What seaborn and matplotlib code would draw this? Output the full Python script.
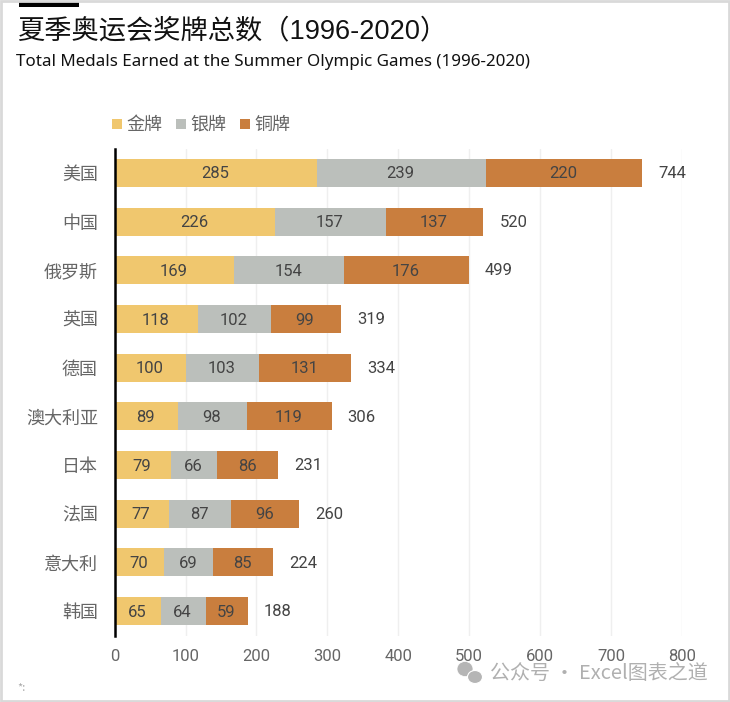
import matplotlib
matplotlib.use("Agg")
import matplotlib.pyplot as plt
from matplotlib.patches import Ellipse, Rectangle
import pandas as pd
import seaborn as sns

# --- Dados ---
COUNTRIES = ['美国', '中国', '俄罗斯', '英国', '德国', '澳大利亚', '日本', '法国', '意大利', '韩国']
GOLD = [285, 226, 169, 118, 100, 89, 79, 77, 70, 65]
SILVER = [239, 157, 154, 102, 103, 98, 66, 87, 69, 64]
BRONZE = [220, 137, 176, 99, 131, 119, 86, 96, 85, 59]
TOTALS = [744, 520, 499, 319, 334, 306, 231, 260, 224, 188]
X_TICKS = [0, 100, 200, 300, 400, 500, 600, 700, 800]

GOLD_COLOR = '#F0C76E'
SILVER_COLOR = '#BBBFBB'
BRONZE_COLOR = '#C97E3E'
TEXT_DARK = '#444444'
TEXT_GREY = '#666666'
CJK = ['Noto Sans CJK SC', 'DejaVu Sans']
NUM_FONT = ['Roboto', 'DejaVu Sans']

sns.set_theme(style='white')
plt.rcParams['font.family'] = CJK

df = pd.DataFrame({'country': COUNTRIES, 'gold': GOLD, 'silver': SILVER, 'bronze': BRONZE})
df['gold_end'] = df['gold']
df['silver_end'] = df['gold'] + df['silver']
df['bronze_end'] = df['silver_end'] + df['bronze']

W, H = 730, 702
fig = plt.figure(figsize=(W / 100, H / 100), dpi=100)
ax = fig.add_axes([114.6 / W, 1 - 635.5 / H, (682 - 114.6) / W, (635.5 - 148.5) / H])

# barras sobrepostas, da maior para a menor, formam o empilhamento
for col, color in [('bronze_end', BRONZE_COLOR), ('silver_end', SILVER_COLOR), ('gold_end', GOLD_COLOR)]:
    sns.barplot(data=df, x=col, y='country', color=color, width=0.575, saturation=1, ax=ax,
                zorder=2, linewidth=0, edgecolor='none')

ax.set_xlim(0, 800)
ax.set_xticks(X_TICKS)
ax.set_xlabel('')
ax.set_ylabel('')
ax.xaxis.grid(True, color='#EFEFEF', linewidth=1)
ax.set_axisbelow(True)
ax.tick_params(axis='both', length=0)
ax.tick_params(axis='x', labelsize=12, labelcolor=TEXT_GREY, pad=10)
ax.tick_params(axis='y', labelsize=13, labelcolor=TEXT_GREY, pad=12)
for lab in ax.get_xticklabels():
    lab.set_family(NUM_FONT)
for lab in ax.get_yticklabels():
    lab.set_y(lab.get_position()[1])
sns.despine(ax=ax, left=False, bottom=True)
ax.spines['left'].set_color('black')
ax.spines['left'].set_linewidth(1.8)

# rótulos de dados
for i, row in df.iterrows():
    for val, center in [(row['gold'], row['gold'] / 2),
                        (row['silver'], row['gold'] + row['silver'] / 2),
                        (row['bronze'], row['silver_end'] + row['bronze'] / 2)]:
        ax.annotate(str(val), (center, i), xytext=(-0.6, -0.8), textcoords='offset points',
                    ha='center', va='center', fontsize=12, color=TEXT_DARK, family=NUM_FONT)
    ax.annotate(str(TOTALS[i]), (row['bronze_end'], i), xytext=(11.5, -0.5), textcoords='offset points',
                ha='left', va='center', fontsize=12, color=TEXT_DARK, family=NUM_FONT)

# títulos
fig.text(17 / W, 1 - 31 / H, '夏季奥运会奖牌总数（1996-2020）', fontsize=19.6, color='#111111', va='center',
         family=['Liberation Sans', 'Noto Sans CJK SC'])
fig.text(16 / W, 1 - 62 / H, 'Total Medals Earned at the Summer Olympic Games (1996-2020)', fontsize=12.25,
         color='#111111', va='center', family=['Noto Sans'])

# legenda
for x0, label, color in [(112, '金牌', GOLD_COLOR), (176, '银牌', SILVER_COLOR), (240, '铜牌', BRONZE_COLOR)]:
    fig.add_artist(Rectangle((x0 / W, 1 - 129 / H), 10 / W, 10 / H, transform=fig.transFigure,
                             facecolor=color, edgecolor='none'))
    fig.text((x0 + 14) / W, 1 - 124.5 / H, label, fontsize=13, color=TEXT_GREY, va='center')

# detalhes da moldura
fig.add_artist(Rectangle((19 / W, 1 - 7 / H), 60 / W, 5 / H, transform=fig.transFigure, facecolor='black', edgecolor='none'))
fig.add_artist(Rectangle((1 / W, 1 / H), (W - 2) / W, (H - 2) / H, transform=fig.transFigure,
                         facecolor='none', edgecolor='#D9D9D9', linewidth=2))

# marca d'água
fig.add_artist(Ellipse((465 / W, 1 - 669 / H), 16 / W, 15 / H, transform=fig.transFigure, facecolor='#B5B5B5', edgecolor='white', linewidth=0.5))
fig.add_artist(Ellipse((475 / W, 1 - 677 / H), 15 / W, 13 / H, transform=fig.transFigure, facecolor='#B5B5B5', edgecolor='white', linewidth=0.8))
fig.text(490 / W, 1 - 673.5 / H, '公众号 · Excel图表之道', fontsize=14.4, color='#B0B0B0', va='center')
fig.text(17 / W, 1 - 688 / H, '*:', fontsize=8, color='#AAAAAA', va='center')

plt.savefig('out.png', dpi=100)
